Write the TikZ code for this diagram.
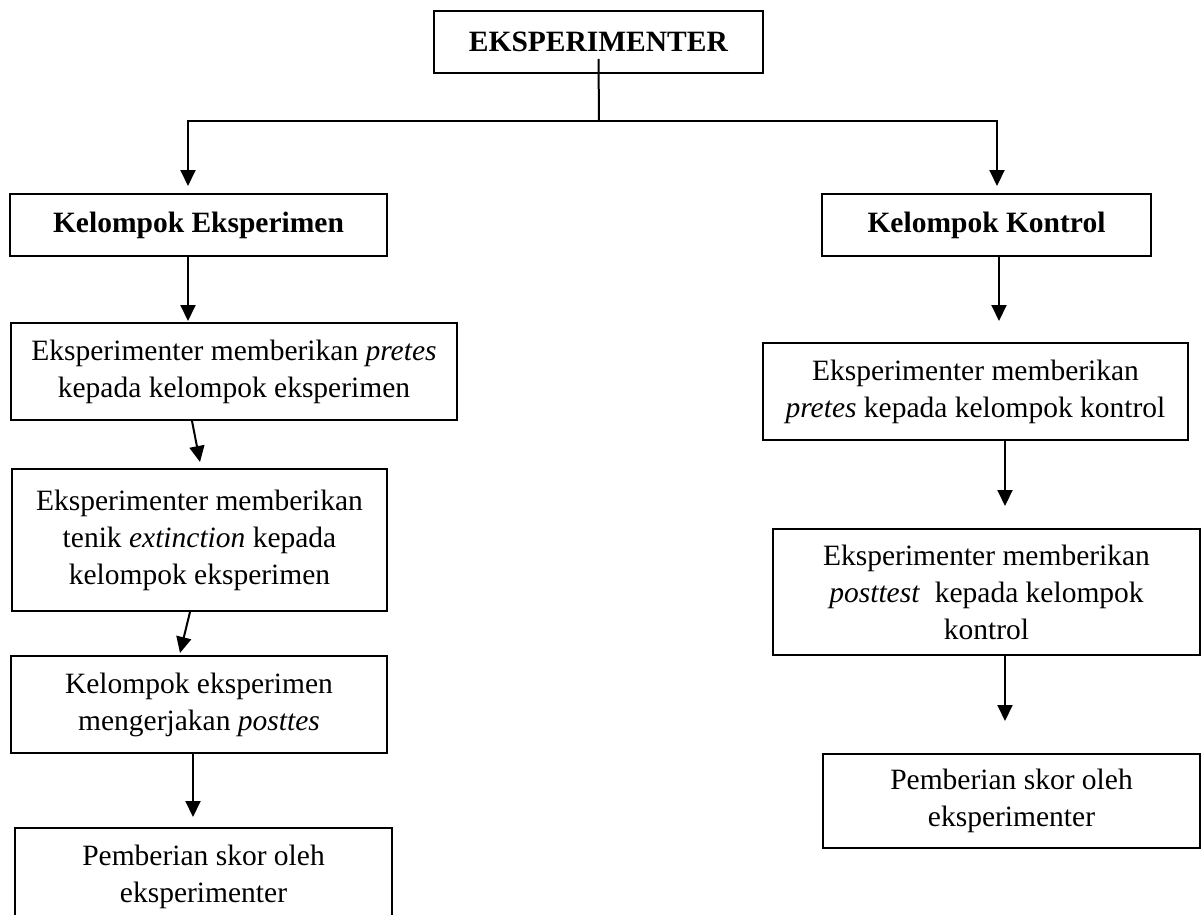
\documentclass[tikz,border=0pt]{standalone}
\usepackage{fontspec}
\setmainfont{Liberation Serif}
\usetikzlibrary{arrows.meta}

\tikzset{
  kotak/.style={draw, line width=2pt, inner sep=0pt, align=center,
    font=\fontsize{29.5}{37}\selectfont},
  panah/.style={line width=2pt, -{Triangle[length=16pt,width=15pt]}}
}

\begin{document}
\begin{tikzpicture}[x=1pt,y=-1pt]
        \useasboundingbox (0,0) rectangle (1202,915);

        % Kotak utama
        \node[kotak, minimum width=329pt, minimum height=62pt] (eks) at (598.5,42) {\textbf{EKSPERIMENTER}};

        % Kelompok eksperimen
        \node[kotak, minimum width=377pt, minimum height=62pt] (grpE) at (198.5,225) {\textbf{Kelompok Eksperimen}};
        \node[kotak, minimum width=446pt, minimum height=97pt] (preE) at (234,371.5) {Eksperimenter memberikan \textit{pretes}\\kepada kelompok eksperimen};
        \node[kotak, minimum width=375pt, minimum height=142pt] (tenE) at (199.5,540) {Eksperimenter memberikan\\tenik \textit{extinction} kepada\\kelompok eksperimen};
        \node[kotak, minimum width=376pt, minimum height=97pt] (postE) at (199,704.5) {Kelompok eksperimen\\mengerjakan \textit{posttes}};
        \node[kotak, minimum width=377pt, minimum height=97pt] (skorE) at (203.5,876.5) {Pemberian skor oleh\\eksperimenter};

        % Kelompok kontrol
        \node[kotak, minimum width=329pt, minimum height=62pt] (grpK) at (986.5,225) {\textbf{Kelompok Kontrol}};
        \node[kotak, minimum width=425pt, minimum height=97pt] (preK) at (975.5,391.5) {Eksperimenter memberikan\\\textit{pretes} kepada kelompok kontrol};
        \node[kotak, minimum width=427pt, minimum height=126pt] (postK) at (986.5,592) {Eksperimenter memberikan\\\textit{posttest}\ \ kepada kelompok\\kontrol};
        \node[kotak, minimum width=377pt, minimum height=94pt] (skorK) at (1011.5,801) {Pemberian skor oleh\\eksperimenter};

        % Percabangan
        \coordinate (cabang) at (599,121);
        \draw[line width=2pt] ([yshift=15pt]eks.south) -- (cabang);
        \draw[panah] (cabang) -| ([xshift=-10.5pt,yshift=7pt]grpE.north);
        \draw[panah] (cabang) -| ([xshift=10.5pt,yshift=7pt]grpK.north);

        % Alur kiri
        \draw[panah] ([xshift=-10.5pt]grpE.south) -- ([xshift=-46pt,yshift=1pt]preE.north);
        \draw[panah] ([xshift=-42pt]preE.south) -- ([xshift=0.5pt,yshift=6pt]tenE.north);
        \draw[panah] ([xshift=-9.5pt]tenE.south) -- ([xshift=-19pt,yshift=2pt]postE.north);
        \draw[panah] ([xshift=-6pt]postE.south) -- ([xshift=-10.5pt,yshift=10pt]skorE.north);

        % Alur kanan
        \draw[panah] ([xshift=12.5pt]grpK.south) -- ([xshift=23.5pt,yshift=21pt]preK.north);
        \draw[panah] ([xshift=29.5pt]preK.south) -- ([xshift=18.5pt,yshift=22pt]postK.north);
        \draw[panah] ([xshift=18.5pt]postK.south) -- ([xshift=-6.5pt,yshift=32pt]skorK.north);
\end{tikzpicture}
\end{document}
